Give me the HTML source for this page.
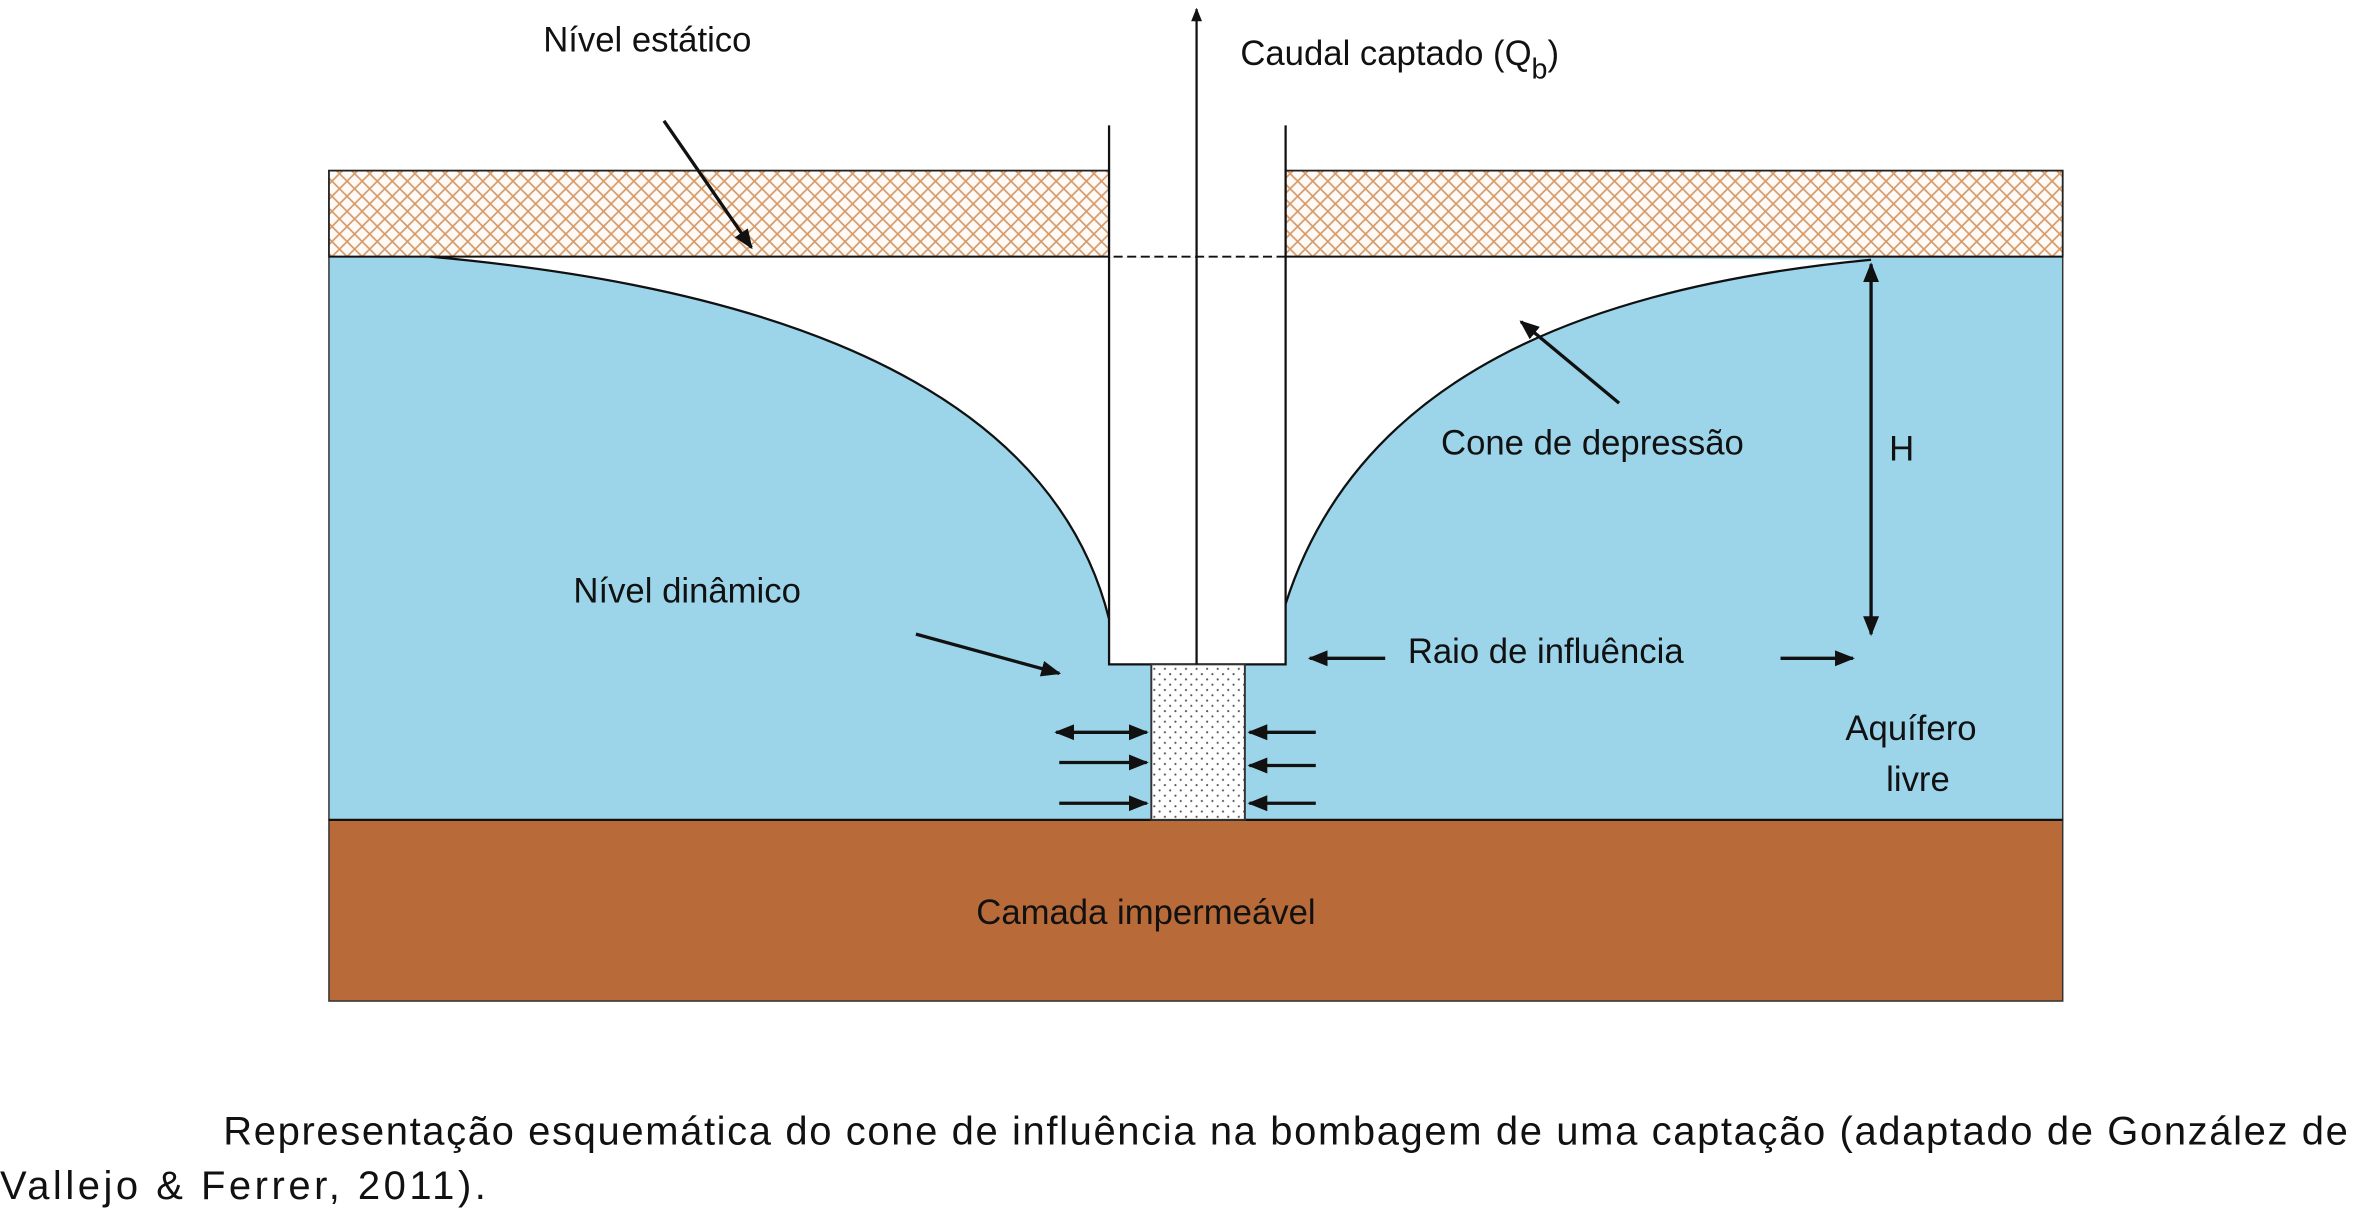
<!DOCTYPE html>
<html><head><meta charset="utf-8"><style>
html,body{margin:0;padding:0;background:#fff;}
svg{display:block;}
</style></head><body>
<svg width="2366" height="1226" viewBox="0 0 1568 812" preserveAspectRatio="none" xmlns="http://www.w3.org/2000/svg" font-family="Liberation Sans, sans-serif">
<defs>
<pattern id="h" width="10" height="10" patternUnits="userSpaceOnUse">
<rect width="10" height="10" fill="#fffaf5"/>
<path d="M0,0 L10,10 M10,0 L0,10" stroke="#d49a6a" stroke-width="1.1"/>
</pattern>
<pattern id="d" width="7" height="7" patternUnits="userSpaceOnUse">
<rect width="7" height="7" fill="#fff"/>
<circle cx="2" cy="2" r="0.7" fill="#555"/>
<circle cx="5.5" cy="5.5" r="0.7" fill="#555"/>
</pattern>
<marker id="a" viewBox="0 0 10 10" refX="9" refY="5" markerWidth="6" markerHeight="6" orient="auto-start-reverse">
<path d="M0,1 L10,5 L0,9 z" fill="#111"/>
</marker>
</defs>
<rect x="218" y="113" width="517" height="57" fill="url(#h)" stroke="#222" stroke-width="1.2"/>
<rect x="852" y="113" width="515" height="57" fill="url(#h)" stroke="#222" stroke-width="1.2"/>
<rect x="218" y="170" width="1149" height="373" fill="#9cd5ea" stroke="#333" stroke-width="1"/>
<path d="M285,170 C450,185 690,230 735,410 L735,170 Z" fill="#fff"/>
<path d="M852,400 C900,250 1050,190 1240,172 L852,170 Z" fill="#fff"/>
<rect x="735" y="170" width="117" height="270" fill="#fff"/>
<path d="M285,170 C450,185 690,230 735,410" fill="none" stroke="#111" stroke-width="1.5"/>
<path d="M852,400 C900,250 1050,190 1240,172" fill="none" stroke="#111" stroke-width="1.5"/>
<line x1="218" y1="170" x2="1367" y2="170" stroke="#111" stroke-width="1.3"/>
<line x1="735" y1="170" x2="852" y2="170" stroke="#fff" stroke-width="1.5" stroke-dasharray="3,6"/>
<rect x="218" y="543" width="1149" height="120" fill="#b86a38" stroke="#333" stroke-width="1"/>
<line x1="218" y1="543" x2="1367" y2="543" stroke="#111" stroke-width="1.5"/>
<path d="M735,83 L735,440 L852,440 L852,83" fill="none" stroke="#111" stroke-width="1.5"/>
<rect x="763" y="440" width="62" height="103" fill="url(#d)" stroke="#333" stroke-width="1.3"/>
<line x1="793" y1="440" x2="793" y2="6" stroke="#111" stroke-width="1.5" marker-end="url(#a)"/>
<g stroke="#111" stroke-width="2.2" fill="none">
<line x1="440" y1="80" x2="498" y2="164" marker-end="url(#a)"/>
<line x1="1073" y1="267" x2="1008" y2="213" marker-end="url(#a)"/>
<line x1="607" y1="420" x2="702" y2="446" marker-end="url(#a)"/>
<line x1="918" y1="436" x2="868" y2="436" marker-end="url(#a)"/>
<line x1="1180" y1="436" x2="1228" y2="436" marker-end="url(#a)"/>
<line x1="1240" y1="175" x2="1240" y2="420" marker-start="url(#a)" marker-end="url(#a)"/>
<line x1="700" y1="485" x2="760" y2="485" marker-start="url(#a)" marker-end="url(#a)"/>
<line x1="702" y1="505" x2="760" y2="505" marker-end="url(#a)"/>
<line x1="702" y1="532" x2="760" y2="532" marker-end="url(#a)"/>
<line x1="872" y1="485" x2="828" y2="485" marker-end="url(#a)"/>
<line x1="872" y1="507" x2="828" y2="507" marker-end="url(#a)"/>
<line x1="872" y1="532" x2="828" y2="532" marker-end="url(#a)"/>
</g>
<g font-size="23" fill="#111">
<text x="360" y="34">Nível estático</text>
<text x="822" y="43">Caudal captado (Q<tspan font-size="19" dy="9">b</tspan><tspan dy="-9">)</tspan></text>
<text x="955" y="301">Cone de depressão</text>
<text x="1252" y="305">H</text>
<text x="380" y="399">Nível dinâmico</text>
<text x="933" y="439">Raio de influência</text>
<text x="1223" y="490">Aquífero</text>
<text x="1250" y="524">livre</text>
<text x="647" y="612">Camada impermeável</text>
</g>
<g font-size="26.5" fill="#111">
<text x="148" y="758" textLength="1408" lengthAdjust="spacing">Representação esquemática do cone de influência na bombagem de uma captação (adaptado de González de</text>
<text x="0" y="794" textLength="322" lengthAdjust="spacing">Vallejo &amp; Ferrer, 2011).</text>
</g>
</svg>
</body></html>
